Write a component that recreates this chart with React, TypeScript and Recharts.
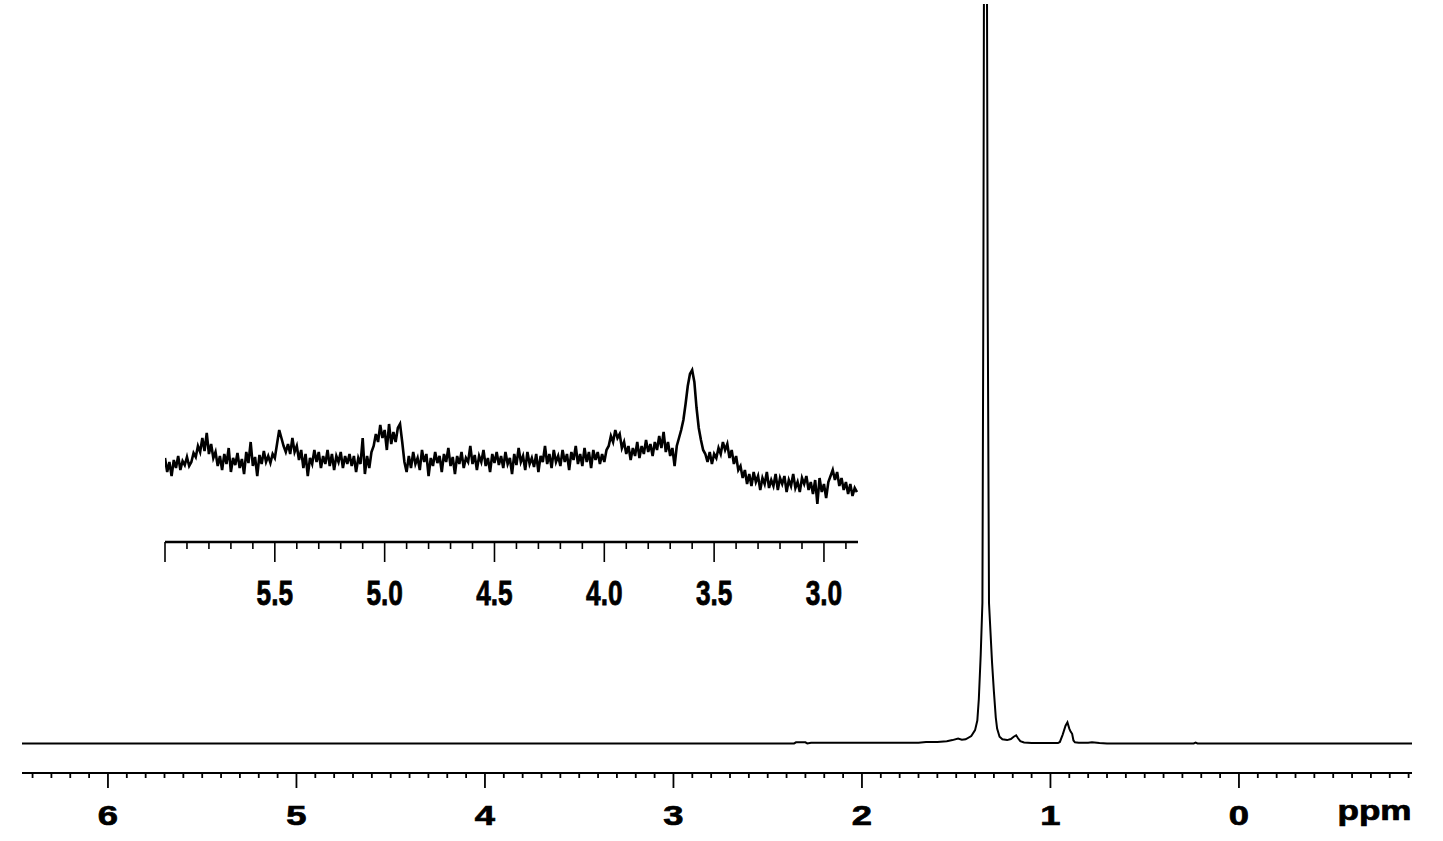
import React from "react";
import { LineChart, Line, XAxis, YAxis } from "recharts";

// ---- Main spectrum (ppm, intensity) ----
const mainPpm: number[] = [
  6.456, 2.36, 2.35, 2.3, 2.29, 2.27, 1.7, 1.66, 1.6, 1.55, 1.52, 1.49, 1.47, 1.45, 1.42, 1.4, 1.388, 1.38, 1.37,
  1.361, 1.356, 1.35, 1.34, 1.333, 1.326, 1.31, 1.3, 1.29, 1.283, 1.27, 1.255, 1.23, 1.21, 1.195, 1.182, 1.172,
  1.16, 1.14, 1.1, 0.96, 0.95, 0.935, 0.92, 0.91, 0.9, 0.893, 0.885, 0.878, 0.87, 0.85, 0.8, 0.78, 0.74, 0.7,
  0.24, 0.23, 0.22, -0.918,
];
const mainIntensity: number[] = [
  0, 0, 0.15, 0.15, 0, 0.1, 0.1, 0.18, 0.2, 0.3, 0.45, 0.65, 0.5, 0.55, 1.0, 1.8, 3.1, 6, 12,
  19, 60, 140, 140, 60, 19, 11, 7, 3.5, 2.0, 0.9, 0.55, 0.45, 0.6, 0.9, 1.1, 0.7,
  0.3, 0.12, 0.05, 0.05, 0.2, 1.2, 2.4, 2.85, 2.0, 1.6, 1.3, 0.4, 0.15, 0.1, 0.1, 0.15, 0.05, 0,
  0, 0.12, 0, 0,
];

// ---- Inset expansion (ppm, intensity) ----
const insetTrace: [number, number][] = [
  [6.0, 84], [5.99, 70], [5.98, 80], [5.97, 66], [5.96, 82], [5.95, 74], [5.94, 86], [5.93, 72], [5.92, 81], [5.91, 77], [5.9, 85], [5.89, 76],
  [5.88, 80], [5.87, 89], [5.86, 85], [5.85, 96], [5.84, 90], [5.83, 104], [5.82, 91], [5.81, 109], [5.8, 88], [5.79, 98], [5.78, 84],
  [5.77, 90], [5.76, 76], [5.75, 86], [5.74, 72], [5.73, 88], [5.72, 78], [5.71, 94], [5.7, 70], [5.69, 84], [5.68, 77], [5.67, 89], [5.66, 74],
  [5.65, 83], [5.64, 68], [5.63, 90], [5.62, 79], [5.61, 100], [5.6, 76], [5.59, 85], [5.58, 66], [5.57, 87], [5.56, 78], [5.55, 91], [5.54, 80],
  [5.53, 86], [5.52, 79], [5.51, 88],
  [5.5, 84], [5.49, 98], [5.48, 112], [5.47, 104], [5.46, 96], [5.45, 90],
  [5.44, 98], [5.43, 88], [5.42, 104], [5.41, 90], [5.4, 96], [5.39, 82], [5.38, 92], [5.37, 74], [5.36, 88], [5.35, 66], [5.34, 84], [5.33, 78],
  [5.32, 92], [5.31, 80], [5.3, 90], [5.29, 74], [5.28, 86], [5.27, 78], [5.26, 92], [5.25, 76], [5.24, 88], [5.23, 72], [5.22, 86], [5.21, 80],
  [5.2, 90], [5.19, 74], [5.18, 86], [5.17, 78],
  [5.16, 88], [5.15, 76], [5.14, 86], [5.13, 70], [5.12, 84], [5.11, 78], [5.1, 104], [5.09, 68], [5.08, 86], [5.07, 74], [5.06, 90],
  [5.05, 96], [5.04, 108], [5.03, 100], [5.02, 117], [5.01, 104], [5.0, 112], [4.99, 92], [4.98, 118], [4.97, 98], [4.96, 110], [4.95, 100],
  [4.94, 114], [4.93, 118], [4.92, 100],
  [4.91, 80], [4.9, 70], [4.89, 86], [4.88, 74], [4.87, 90], [4.86, 78], [4.85, 84], [4.84, 72], [4.83, 92], [4.82, 80], [4.81, 88], [4.8, 66],
  [4.79, 84], [4.78, 76], [4.77, 90], [4.76, 79], [4.75, 86], [4.74, 70], [4.73, 88], [4.72, 80], [4.71, 94], [4.7, 76], [4.69, 85], [4.68, 68],
  [4.67, 86], [4.66, 78], [4.65, 90], [4.64, 74], [4.63, 84], [4.62, 80], [4.61, 96], [4.6, 78], [4.59, 87], [4.58, 72], [4.57, 86], [4.56, 80],
  [4.55, 92], [4.54, 76], [4.53, 84], [4.52, 70], [4.51, 88], [4.5, 79], [4.49, 90], [4.48, 77],
  [4.47, 86], [4.46, 74], [4.45, 90], [4.44, 78], [4.43, 84], [4.42, 68], [4.41, 88], [4.4, 77], [4.39, 94], [4.38, 80], [4.37, 86], [4.36, 72],
  [4.35, 90], [4.34, 78], [4.33, 84], [4.32, 75], [4.31, 88], [4.3, 70], [4.29, 86], [4.28, 80], [4.27, 96], [4.26, 78], [4.25, 88], [4.24, 74],
  [4.23, 92], [4.22, 80], [4.21, 86], [4.2, 76], [4.19, 92], [4.18, 80], [4.17, 88], [4.16, 72], [4.15, 90], [4.14, 82], [4.13, 96], [4.12, 78],
  [4.11, 88], [4.1, 76], [4.09, 94], [4.08, 80], [4.07, 90], [4.06, 74], [4.05, 92], [4.04, 82], [4.03, 90], [4.02, 78], [4.01, 88], [4.0, 80],
  [3.99, 92],
  [3.98, 96], [3.97, 106], [3.96, 100], [3.95, 112], [3.94, 104], [3.93, 108], [3.92, 94], [3.91, 100],
  [3.9, 88], [3.89, 96], [3.88, 82], [3.87, 94], [3.86, 86], [3.85, 100], [3.84, 84], [3.83, 96], [3.82, 88], [3.81, 102], [3.8, 90], [3.79, 98],
  [3.78, 86], [3.77, 100], [3.76, 92], [3.75, 106], [3.74, 94], [3.73, 110], [3.72, 90], [3.71, 100], [3.7, 86], [3.69, 94], [3.68, 76],
  [3.67, 96], [3.66, 104], [3.65, 112], [3.64, 122], [3.63, 138], [3.62, 156], [3.61, 168], [3.6, 172], [3.59, 160], [3.58, 134], [3.57, 114],
  [3.56, 102], [3.55, 92], [3.54, 88],
  [3.53, 80], [3.52, 90], [3.51, 78], [3.5, 88], [3.49, 84], [3.48, 94], [3.47, 88], [3.46, 100], [3.45, 92], [3.44, 98], [3.43, 84], [3.42, 92],
  [3.41, 78], [3.4, 86], [3.39, 72],
  [3.38, 76], [3.37, 64], [3.36, 72], [3.35, 58], [3.34, 68], [3.33, 56], [3.32, 70], [3.31, 60], [3.3, 66], [3.29, 52], [3.28, 64], [3.27, 58],
  [3.26, 70], [3.25, 54], [3.24, 62], [3.23, 56], [3.22, 68], [3.21, 52], [3.2, 64], [3.19, 58], [3.18, 66], [3.17, 50], [3.16, 62], [3.15, 56],
  [3.14, 68], [3.13, 54], [3.12, 60], [3.11, 50], [3.1, 64], [3.09, 58], [3.08, 66], [3.07, 52], [3.06, 60], [3.05, 48], [3.04, 62], [3.03, 38],
  [3.02, 64], [3.01, 50], [3.0, 58], [2.99, 44], [2.98, 60], [2.97, 66], [2.96, 72], [2.95, 62], [2.94, 70], [2.93, 56], [2.92, 64], [2.91, 52],
  [2.9, 60], [2.89, 48], [2.88, 58], [2.87, 46], [2.86, 54], [2.85, 50],
];

// ---- Axes ----
const mainDomain: [number, number] = [-0.918, 6.456];
const mainMajorTicks: number[] = [6, 5, 4, 3, 2, 1, 0];
const insetDomain: [number, number] = [2.845, 6.0];
const insetMajorTicks: number[] = [6.0, 5.5, 5.0, 4.5, 4.0, 3.5, 3.0];
const insetLabels: string[] = ["", "5.5", "5.0", "4.5", "4.0", "3.5", "3.0"];
const unitLabel = "ppm";

const mainTicks: number[] = [];
for (let i = -9; i <= 64; i++) mainTicks.push(i / 10);
const insetTicks: number[] = [];
for (let i = 29; i <= 60; i++) insetTicks.push(i / 10);

const mainData = mainPpm.map((p, i) => ({ ppm: p, v: mainIntensity[i] }));
const insetData = insetTrace.map(([p, v]) => ({ ppm: p, v }));

const near = (a: number, b: number) => Math.abs(a - b) < 1e-6;
const FONT = "'Liberation Sans', Arial, sans-serif";

const MainTick = (props: any) => {
  const { x, y, payload } = props;
  const val = payload.value as number;
  const major = mainMajorTicks.some((m) => near(m, val));
  return (
    <g>
      <line x1={x} x2={x} y1={y} y2={y + (major ? 15 : 5)} stroke="#000" strokeWidth={1.8} />
      {major && (
        <text
          transform={`translate(${x},${y + 52}) scale(1.3,1)`}
          textAnchor="middle"
          fontFamily={FONT}
          fontWeight="bold"
          fontSize={28}
          fill="#000"
          stroke="#000"
          strokeWidth={0.7}
        >
          {String(Math.round(val))}
        </text>
      )}
    </g>
  );
};

const InsetTick = (props: any) => {
  const { x, y, payload } = props;
  const val = payload.value as number;
  const idx = insetMajorTicks.findIndex((m) => near(m, val));
  const major = idx >= 0;
  return (
    <g>
      <line x1={x} x2={x} y1={y} y2={y + (major ? 20 : 7)} stroke="#000" strokeWidth={1.6} />
      {major && insetLabels[idx] && (
        <text
          transform={`translate(${x},${y + 63}) scale(0.75,1)`}
          textAnchor="middle"
          fontFamily={FONT}
          fontWeight="bold"
          fontSize={35}
          fill="#000"
          stroke="#000"
          strokeWidth={0.8}
        >
          {insetLabels[idx]}
        </text>
      )}
    </g>
  );
};

export default function App() {
  return (
    <div style={{ position: "fixed", left: 0, top: 0, width: 1443, height: 841, background: "#fff" }}>
      <div style={{ position: "absolute", left: 0, top: 0 }}>
        <LineChart width={1443} height={841} data={mainData} margin={{ top: 4, right: 31, bottom: 0, left: 22 }}>
          <XAxis
            dataKey="ppm"
            type="number"
            domain={mainDomain}
            reversed
            allowDataOverflow
            ticks={mainTicks}
            interval={0}
            tickSize={0}
            tickMargin={0}
            tickLine={false}
            height={68}
            axisLine={{ stroke: "#000", strokeWidth: 2 }}
            tick={<MainTick />}
          />
          <YAxis hide type="number" domain={[-4, 100]} allowDataOverflow />
          <Line
            type="linear"
            dataKey="v"
            stroke="#000"
            strokeWidth={2}
            dot={false}
            isAnimationActive={false}
          />
        </LineChart>
      </div>
      <div style={{ position: "absolute", left: 0, top: 0 }}>
        <LineChart width={1443} height={841} data={insetData} margin={{ top: 342, right: 585, bottom: 0, left: 165 }}>
          <XAxis
            dataKey="ppm"
            type="number"
            domain={insetDomain}
            reversed
            allowDataOverflow
            ticks={insetTicks}
            interval={0}
            tickSize={0}
            tickMargin={0}
            tickLine={false}
            height={299}
            axisLine={{ stroke: "#000", strokeWidth: 2.6 }}
            tick={<InsetTick />}
          />
          <YAxis hide type="number" domain={[0, 200]} allowDataOverflow />
          <Line
            type="linear"
            dataKey="v"
            stroke="#000"
            strokeWidth={2.6}
            strokeLinejoin="miter"
            dot={false}
            isAnimationActive={false}
          />
        </LineChart>
      </div>
      <svg style={{ position: "absolute", left: 0, top: 0 }} width={1443} height={841} pointerEvents="none">
        <text
          transform={`translate(1374.5,820) scale(1.3,1)`}
          textAnchor="middle"
          fontFamily={FONT}
          fontWeight="bold"
          fontSize={27}
          fill="#000"
          stroke="#000"
          strokeWidth={0.7}
        >
          {unitLabel}
        </text>
      </svg>
    </div>
  );
}
